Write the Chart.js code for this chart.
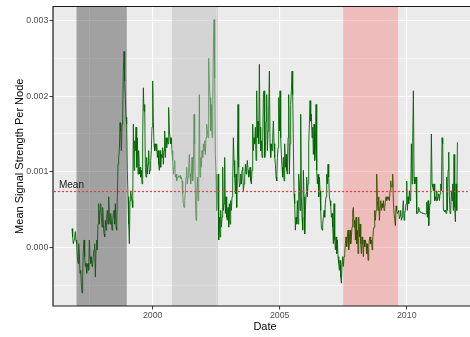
<!DOCTYPE html>
<html>
<head>
<meta charset="utf-8">
<script src="https://cdn.jsdelivr.net/npm/chart.js@4/dist/chart.umd.min.js"></script>
<style>
  html, body { margin: 0; padding: 0; background: #ffffff; }
  canvas { display: block; }
</style>
</head>
<body>
<canvas id="chart" width="470" height="337"></canvas>
<script>
// Regular sampling of the series, in decimal years
const firstYear = 1996.823;
const yearStep = 0.026247;

// Mean signal strength per node, in consecutive blocks
const signal1996to1999 = [
  0.00025, 0.00014, 0.00005, 0.0001, 0.00014, 0.00021, 0.0001, 0.00005, -0.00012, -0.00021,
  0.00005, -0.00008, -0.00034, -0.0003, -0.00047, -0.0006, -0.00039, -0.00003, 0.0001, -0.00012,
  -0.00025, -0.00021, -0.00034, -0.00025, -0.00021, -0.0003, 0.0001, -0.00012, -0.00021, -0.00012,
  -0.00025, -0.00021, -0.00012, -0.00003, 0.00005, -0.00039, -0.00003, 0.0001, -0.00003, 0.00031,
  0.00058, 0.00031, 0.00049, 0.00058, 0.0004, 0.00027, 0.00053, 0.00031, 0.00018, 0.00014,
  0.00036, 0.00023, 0.0004, 0.00049, 0.00031, 0.00067, 0.0004, 0.00031, 0.00045, 0.00036,
  0.00023, 0.00036, 0.00045, 0.00049, 0.00031, 0.00058, 0.00027, 0.00023, 0.00067, 0.0011,
  0.00119, 0.00128, 0.00165, 0.00154, 0.00128, 0.00163, 0.0018, 0.00233, 0.00259, 0.0022,
  0.00198, 0.00172, 0.00163, 0.00102, 0.00067, 0.00031, 0.00005, 0.00062, 0.00075, 0.00067
];
const signal1999to2001 = [
  0.00062, 0.00053, 0.00163, 0.00102, 0.00141, 0.00128, 0.00159, 0.00106, 0.00145, 0.00097,
  0.00128, 0.00097, 0.00106, 0.00093, 0.00102, 0.00084, 0.00145, 0.00211, 0.0018, 0.00189,
  0.00106, 0.00093, 0.00119, 0.00097, 0.0011, 0.00128, 0.00097, 0.00102, 0.00115, 0.00128,
  0.00159, 0.0022, 0.00167, 0.00137, 0.00128, 0.00137, 0.00128, 0.00137, 0.00119, 0.00128,
  0.0011, 0.00102, 0.00128, 0.00106, 0.00123, 0.00119, 0.00132, 0.0011, 0.00128, 0.00154,
  0.00119, 0.00145, 0.00132, 0.00145, 0.00137, 0.00185, 0.00154, 0.00145, 0.00137, 0.00145,
  0.00128, 0.00115, 0.00097, 0.00106, 0.00115, 0.00093, 0.00097, 0.00088, 0.00093, 0.00093,
  0.00095, 0.00093, 0.00095, 0.00091, 0.00093, 0.00088, 0.00071, 0.00058, 0.00053, 0.00062,
  0.00075, 0.00093, 0.00106, 0.00084, 0.00093, 0.00106, 0.00123, 0.00097, 0.00084, 0.00097,
  0.00119, 0.00088, 0.00102, 0.00176, 0.00137, 0.00067, 0.00036, 0.00075, 0.00093
];
const signal2001to2004 = [
  0.00062, 0.00084, 0.00202, 0.00093, 0.00119, 0.00106, 0.00128, 0.00119, 0.00137, 0.00128,
  0.00141, 0.00123, 0.00145, 0.00163, 0.00154, 0.00145, 0.0025, 0.00215, 0.00198, 0.00154,
  0.00189, 0.00145, 0.0018, 0.00259, 0.00301, 0.00224, 0.00123, 0.00097, 0.00049, 0.00067,
  0.00097, 0.0001, 0.0004, 0.00014, 0.00049, 0.00027, 0.0004, 0.00106, 0.00049, 0.00058,
  0.00119, 0.00045, 0.00067, 0.0004, 0.00036, 0.00053, 0.00027, 0.00058, 0.00031, 0.00062,
  0.00049, 0.00067, 0.00084, 0.00145, 0.00115, 0.00093, 0.00071, 0.00097, 0.00053, 0.00115,
  0.00189, 0.00106, 0.0008, 0.00084, 0.00097, 0.00084, 0.00102, 0.00106, 0.00075, 0.00084,
  0.00093, 0.0011, 0.00097, 0.00106, 0.00115, 0.00102, 0.00093, 0.00097, 0.00106, 0.00088,
  0.00084, 0.00102, 0.00163, 0.00128, 0.00145, 0.00137, 0.00159, 0.00115, 0.00207, 0.00145,
  0.00167, 0.00137, 0.00242, 0.00159, 0.00128, 0.00141, 0.00119, 0.00137, 0.00202
];
const signal2004to2006 = [
  0.00207, 0.00119, 0.00128, 0.00167, 0.00202, 0.00128, 0.00154, 0.0018, 0.00233, 0.00137,
  0.00119, 0.00137, 0.00128, 0.00145, 0.00167, 0.00137, 0.00119, 0.0011, 0.00093, 0.00088,
  0.00119, 0.00132, 0.00198, 0.00154, 0.00207, 0.00145, 0.00123, 0.00106, 0.00093, 0.00119,
  0.00088, 0.00137, 0.00106, 0.00123, 0.00102, 0.00097, 0.00145, 0.00202, 0.00097, 0.00137,
  0.00189, 0.00207, 0.00233, 0.00202, 0.00137, 0.00071, 0.00058, 0.00023, 0.0004, 0.00031,
  0.00062, 0.00031, 0.00097, 0.00084, 0.00049, 0.00176, 0.00067, 0.0004, 0.00023, 0.00102,
  0.00067, 0.00018, 0.00049, 0.00071, 0.00093, 0.00067, 0.00084, 0.00137, 0.00163, 0.00194,
  0.00167, 0.00176, 0.00145, 0.00159, 0.00123, 0.00163, 0.00115, 0.00128, 0.00189, 0.00102,
  0.00084, 0.00097, 0.00067, 0.00093, 0.00075, 0.00049, 0.00027, 0.00023, 0.00031, 0.0004,
  0.00049, 0.0004, 0.00058, 0.00067, 0.00097, 0.00084, 0.0011, 0.00093, 0.00067
];
const signal2006to2009 = [
  0.00062, 0.00055, 0.0004, 0.00045, 0.00027, 0.00005, 0.00058, 0.0001, -0.00003, 0.00014,
  -0.00008, 0.0001, -0.00012, -0.00021, -0.0003, -0.00017, -0.00039, -0.00047, -0.00021, -0.00012,
  -0.00025, -0.00012, -0.00008, 0.00005, 0.00014, 0.00001, 0.00014, 0.00023, -0.00003, 0.0001,
  0.00023, 0.00005, 0.00014, 0.00027, 0.00049, 0.00053, 0.00027, 0.00036, 0.0001, 0.0004,
  0.00005, 0.00023, -0.00008, 0.0004, 0.00014, 0.00031, 0.00005, -0.00008, 0.00014, 0.00005,
  -0.00012, 0.0001, 0.00001, 0.0001, 0.00005, -0.00008, 0.00005, -0.00017, 0.00001, 0.0001,
  0.00014, 0.00005, 0.0001, -0.00003, 0.0001, 0.00023, 0.00027, 0.00049, 0.00036, 0.00049,
  0.00097, 0.00062, 0.00049, 0.00067, 0.00036, 0.00053, 0.00062, 0.00049, 0.00058, 0.00053,
  0.00062, 0.00049, 0.00053, 0.00062, 0.00067, 0.00062, 0.00067, 0.00064, 0.00067, 0.00062,
  0.00075, 0.00088, 0.0008, 0.0008, 0.00097, 0.0006, 0.00045, 0.00045, 0.00029
];
const signal2009to2011 = [
  0.00055, 0.00049, 0.00045, 0.00047, 0.00049, 0.00038, 0.00042, 0.00049, 0.00036, 0.0004,
  0.00053, 0.00062, 0.00036, 0.00045, 0.00049, 0.00058, 0.00088, 0.00049, 0.00067, 0.00058,
  0.00075, 0.00062, 0.00067, 0.00137, 0.00084, 0.00145, 0.00207, 0.00093, 0.00084, 0.00088,
  0.00093, 0.00045, 0.00045, 0.00047, 0.00053, 0.00049, 0.00047, 0.00047, 0.00046, 0.00046,
  0.00045, 0.00045, 0.00045, 0.00045, 0.00044, 0.00045, 0.0006, 0.0004, 0.00062, 0.00029,
  0.00049, 0.00058, 0.00075, 0.0015, 0.00084, 0.0008, 0.00075, 0.00084, 0.00062, 0.00067,
  0.00062, 0.00075, 0.00062, 0.00067, 0.00071, 0.00062, 0.00071, 0.00084, 0.00075, 0.00145,
  0.00137, 0.00049, 0.00049, 0.00047, 0.00049, 0.00045, 0.00093, 0.00049, 0.00102, 0.00126,
  0.00067, 0.00045, 0.00049, 0.00075, 0.00062, 0.00084, 0.00049, 0.00123, 0.00053, 0.00034,
  0.00084, 0.00049, 0.00139
];

// Overall mean and where its label sits (decimal year)
const meanValue = 0.00074;
const meanLabelYear = 1996.31;

// Highlighted periods [start, end] in decimal years
const shadedPeriods = [[1997.0, 1998.98], [2000.76, 2002.57], [2007.49, 2009.66]];

// Axis ticks
const xTicks = [1997.5, 2000, 2002.5, 2005, 2007.5, 2010];
const xTickLabels = ['', '2000', '', '2005', '', '2010'];
const yTicks = [-0.0005, 0, 0.0005, 0.001, 0.0015, 0.002, 0.0025, 0.003];
const yTickLabels = ['', '0.000', '', '0.001', '', '0.002', '', '0.003'];

// ---- drawing ----
const FONT = '"Liberation Sans", Arial, Helvetica, sans-serif';
const shadeFills = ['rgba(60,60,60,0.42)', 'rgba(190,190,190,0.5)', 'rgba(255,0,0,0.2)'];

const signal = [].concat(signal1996to1999, signal1999to2001, signal2001to2004,
                         signal2004to2006, signal2006to2009, signal2009to2011);
const points = signal.map((v, i) => ({ x: firstYear + i * yearStep, y: v }));

const panelPlugin = {
  id: 'panel',
  beforeDraw(chart) {
    const { ctx, chartArea: a } = chart;
    ctx.save();
    ctx.fillStyle = '#ffffff';
    ctx.fillRect(0, 0, chart.width, chart.height);
    ctx.fillStyle = '#EBEBEB';
    ctx.fillRect(a.left, a.top, a.right - a.left, a.bottom - a.top);
    ctx.restore();
  },
  afterDatasetsDraw(chart) {
    const { ctx, chartArea: a, scales } = chart;
    const xs = scales.x, ys = scales.y;
    ctx.save();
    ctx.beginPath();
    ctx.rect(a.left, a.top, a.right - a.left, a.bottom - a.top);
    ctx.clip();
    shadedPeriods.forEach(([s, e], i) => {
      const x0 = xs.getPixelForValue(s), x1 = xs.getPixelForValue(e);
      ctx.fillStyle = shadeFills[i];
      ctx.fillRect(x0, a.top, x1 - x0, a.bottom - a.top);
    });
    // dotted mean line, snapped to the pixel grid so the dots stay crisp
    const ym = ys.getPixelForValue(meanValue);
    const yLine = Math.floor(ym) + 0.5;
    ctx.strokeStyle = 'rgb(238,60,60)';
    ctx.lineWidth = 1.2;
    ctx.setLineDash([2, 2]);
    ctx.beginPath();
    ctx.moveTo(a.left + 1, yLine);
    ctx.lineTo(a.right, yLine);
    ctx.stroke();
    ctx.restore();

    ctx.save();
    ctx.font = '10px ' + FONT;
    ctx.fillStyle = '#1a1a1a';
    ctx.textAlign = 'left';
    ctx.textBaseline = 'alphabetic';
    ctx.fillText('Mean', xs.getPixelForValue(meanLabelYear), ym - 3.5);

    // panel frame
    ctx.strokeStyle = '#1a1a1a';
    ctx.lineWidth = 1.2;
    ctx.beginPath();
    ctx.moveTo(a.right + 2, a.top);
    ctx.lineTo(a.left, a.top);
    ctx.lineTo(a.left, a.bottom);
    ctx.lineTo(a.right + 2, a.bottom);
    ctx.stroke();

    // axis titles
    ctx.fillStyle = '#000000';
    ctx.font = '11px ' + FONT;
    ctx.textAlign = 'center';
    ctx.textBaseline = 'middle';
    ctx.fillText('Date', 265, 326.5);
    ctx.translate(20, (a.top + a.bottom) / 2);
    ctx.rotate(-Math.PI / 2);
    ctx.fillText('Mean Signal Strength Per Node', 0, 0);
    ctx.restore();
  }
};

new Chart(document.getElementById('chart'), {
  type: 'line',
  data: {
    datasets: [{
      data: points,
      borderColor: '#006400',
      borderWidth: 0.9,
      pointRadius: 0,
      tension: 0,
      fill: false
    }]
  },
  options: {
    responsive: false,
    animation: false,
    devicePixelRatio: 1,
    layout: { padding: { top: 5, right: 0, bottom: 0, left: 0 } },
    plugins: { legend: { display: false }, tooltip: { enabled: false } },
    scales: {
      x: {
        type: 'linear',
        min: 1996.075,
        max: 2012.49,
        afterBuildTicks: s => { s.ticks = xTicks.map(v => ({ value: v })); },
        afterFit: s => { s.height = 31; },
        ticks: {
          autoSkip: false, maxRotation: 0, padding: 1,
          color: '#4D4D4D', font: { family: FONT, size: 8.8 },
          callback: (v, i) => xTickLabels[i]
        },
        grid: {
          color: '#ffffff',
          lineWidth: c => (xTickLabels[c.index] ? 1.1 : 0.55),
          tickColor: c => (xTickLabels[c.index] ? '#333333' : 'rgba(0,0,0,0)'),
          tickLength: 3.5,
          tickWidth: 1
        },
        border: { display: false }
      },
      y: {
        min: -0.000772,
        max: 0.003184,
        afterBuildTicks: s => { s.ticks = yTicks.map(v => ({ value: v })); },
        afterFit: s => { s.width = 53; },
        ticks: {
          autoSkip: false, padding: 1.2,
          color: '#4D4D4D', font: { family: FONT, size: 8.8 },
          callback: (v, i) => yTickLabels[i]
        },
        grid: {
          color: '#ffffff',
          lineWidth: c => (yTickLabels[c.index] ? 1.1 : 0.55),
          tickColor: c => (yTickLabels[c.index] ? '#333333' : 'rgba(0,0,0,0)'),
          tickLength: 3.5,
          tickWidth: 1
        },
        border: { display: false }
      }
    }
  },
  plugins: [panelPlugin]
});
</script>
</body>
</html>
